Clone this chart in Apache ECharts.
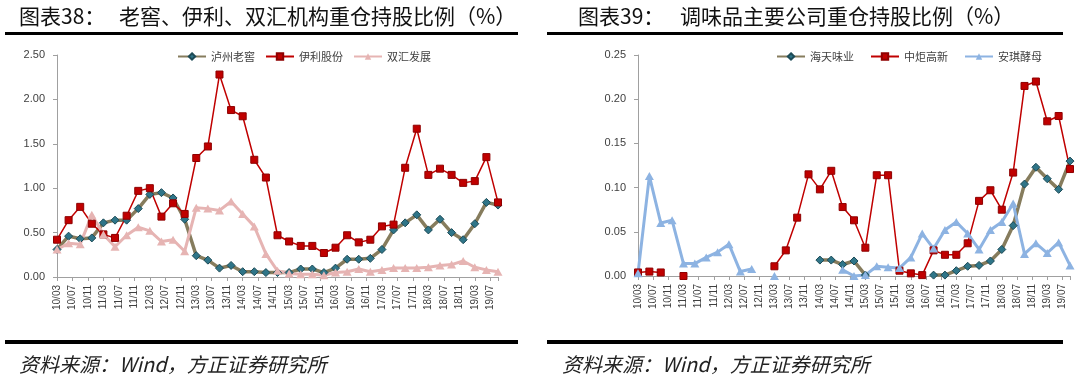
<!DOCTYPE html>
<html>
<head>
<meta charset="utf-8">
<script src="https://cdn.jsdelivr.net/npm/echarts@6/dist/echarts.min.js"></script>
<style>
  html, body { margin: 0; padding: 0; background: #fff; }
  #main { width: 1080px; height: 376px; }
</style>
</head>
<body>
<div id="main"></div>
<script>
// 季度末数据点
var periods = ['10/03','10/06','10/09','10/12','11/03','11/06','11/09','11/12','12/03','12/06','12/09','12/12',
  '13/03','13/06','13/09','13/12','14/03','14/06','14/09','14/12','15/03','15/06','15/09','15/12',
  '16/03','16/06','16/09','16/12','17/03','17/06','17/09','17/12','18/03','18/06','18/09','18/12',
  '19/03','19/06','19/09'];
// 横轴标签，每4个月一个
var tickLabels = ['10/03','10/07','10/11','11/03','11/07','11/11','12/03','12/07','12/11','13/03','13/07','13/11',
  '14/03','14/07','14/11','15/03','15/07','15/11','16/03','16/07','16/11','17/03','17/07','17/11',
  '18/03','18/07','18/11','19/03','19/07'];

// 图表38
var luzhou = [0.31,0.46,0.43,0.44,0.61,0.64,0.64,0.77,0.93,0.95,0.89,0.65,0.24,0.19,0.10,0.13,0.06,0.06,0.05,0.05,
  0.05,0.09,0.09,0.05,0.10,0.20,0.20,0.21,0.31,0.53,0.61,0.70,0.53,0.65,0.50,0.42,0.60,0.84,0.81];
var yili = [0.42,0.64,0.79,0.60,0.48,0.44,0.69,0.97,1.00,0.68,0.83,0.71,1.34,1.47,2.28,1.88,1.81,1.32,1.12,0.47,
  0.40,0.35,0.35,0.27,0.33,0.47,0.39,0.42,0.57,0.59,1.23,1.67,1.15,1.22,1.15,1.06,1.08,1.35,0.84];
var shuanghui = [0.31,0.38,0.37,0.70,0.48,0.34,0.47,0.56,0.52,0.40,0.42,0.29,0.78,0.77,0.75,0.85,0.71,0.57,0.26,0.07,
  0.04,0.03,0.03,0.02,0.05,0.06,0.09,0.06,0.08,0.10,0.10,0.10,0.11,0.13,0.14,0.18,0.11,0.08,0.06];

// 图表39
var haitian = [null,null,null,null,null,null,null,null,null,null,null,null,null,null,null,null,
  0.018,0.018,0.013,0.017,0.001,null,null,null,null,null,0.001,0.001,0.006,0.011,0.012,0.017,0.030,0.057,
  0.104,0.123,0.110,0.098,0.130];
var zhongju = [0.004,0.005,0.004,null,0.000,null,null,null,null,null,null,null,
  0.011,0.029,0.066,0.115,0.098,0.119,0.078,0.063,0.032,0.114,0.114,0.006,0.003,0.001,0.029,0.024,0.024,0.037,
  0.085,0.097,0.075,0.117,0.215,0.220,0.175,0.181,0.121];
var anqi = [0.003,0.113,0.060,0.063,0.014,0.014,0.021,0.027,0.036,0.005,0.008,null,0.000,null,null,null,null,null,
  0.007,0.000,0.001,0.011,0.010,0.009,0.021,0.048,0.031,0.052,0.061,0.048,0.030,0.052,0.061,0.082,0.025,0.037,
  0.026,0.038,0.012];

var cjk = '"Noto Sans CJK SC", sans-serif';
var latin = '"Liberation Sans", Arial, sans-serif';
var axisGray = '#A0A0A0';

function toMonth(p) {
  var s = p.split('/');
  return (parseInt(s[0], 10) - 10) * 12 + parseInt(s[1], 10) - 3;
}
function pairs(arr) {
  return periods.map(function (p, i) { return [toMonth(p), arr[i]]; });
}

function xAxisCfg(idx) {
  return {
    type: 'value', gridIndex: idx, min: 0, max: 114, interval: 4,
    axisLine: { lineStyle: { color: axisGray, width: 1 } },
    axisTick: { show: true, length: 4, lineStyle: { color: axisGray } },
    splitLine: { show: false },
    axisLabel: {
      rotate: 90, margin: 8, fontSize: 10, color: '#404040', fontFamily: latin,
      formatter: function (v) { return v % 4 === 0 ? (tickLabels[v / 4] || '') : ''; }
    }
  };
}
function yAxisCfg(idx, max, step) {
  return {
    type: 'value', gridIndex: idx, min: 0, max: max, interval: step,
    axisLine: { show: true, lineStyle: { color: axisGray, width: 1 } },
    axisTick: { show: true, length: 4, lineStyle: { color: axisGray } },
    splitLine: { show: false },
    axisLabel: {
      margin: 12, fontSize: 11, color: '#404040', fontFamily: latin,
      formatter: function (v) { return v.toFixed(2); }
    }
  };
}

function diamondSeries(name, idx, arr) {
  return {
    name: name, type: 'line', xAxisIndex: idx, yAxisIndex: idx, data: pairs(arr),
    symbol: 'diamond', symbolSize: 8, connectNulls: false,
    lineStyle: { color: '#867C5D', width: 3.5 },
    itemStyle: { color: '#2F7588', borderColor: '#1D4B57', borderWidth: 1 }
  };
}
function squareSeries(name, idx, arr) {
  return {
    name: name, type: 'line', xAxisIndex: idx, yAxisIndex: idx, data: pairs(arr),
    symbol: 'rect', symbolSize: 7, connectNulls: false,
    lineStyle: { color: '#C00000', width: 1.5 },
    itemStyle: { color: '#C00000', borderColor: '#8E0000', borderWidth: 1 }
  };
}
function triangleSeries(name, idx, arr, color) {
  return {
    name: name, type: 'line', xAxisIndex: idx, yAxisIndex: idx, data: pairs(arr),
    symbol: 'triangle', symbolSize: [9, 8], connectNulls: false,
    lineStyle: { color: color, width: 3 },
    itemStyle: { color: color }
  };
}

var chart = echarts.init(document.getElementById('main'));
chart.setOption({
  animation: false,
  backgroundColor: '#fff',
  grid: [
    { left: 57, top: 55, width: 441, height: 222, outerBoundsMode: 'none' },
    { left: 638, top: 55, width: 432, height: 221, outerBoundsMode: 'none' }
  ],
  xAxis: [xAxisCfg(0), xAxisCfg(1)],
  yAxis: [yAxisCfg(0, 2.5, 0.5), yAxisCfg(1, 0.25, 0.05)],
  legend: [
    {
      data: ['泸州老窖', '伊利股份', '双汇发展'], left: 172, top: 46,
      itemWidth: 28, itemHeight: 8, itemGap: 10,
      textStyle: { fontSize: 11, color: '#404040', fontFamily: cjk }
    },
    {
      data: ['海天味业', '中炬高新', '安琪酵母'], left: 771, top: 46,
      itemWidth: 28, itemHeight: 8, itemGap: 16,
      textStyle: { fontSize: 11, color: '#404040', fontFamily: cjk }
    }
  ],
  series: [
    diamondSeries('泸州老窖', 0, luzhou),
    squareSeries('伊利股份', 0, yili),
    triangleSeries('双汇发展', 0, shuanghui, '#E6B4B3'),
    diamondSeries('海天味业', 1, haitian),
    squareSeries('中炬高新', 1, zhongju),
    triangleSeries('安琪酵母', 1, anqi, '#8DB3E2')
  ],
  graphic: [
    { type: 'text', x: 19, y: 16, style: { text: '图表38：', font: '21px ' + cjk, fill: '#111', verticalAlign: 'middle' } },
    { type: 'text', x: 119, y: 16, style: { text: '老窖、伊利、双汇机构重仓持股比例（%）', font: '21px ' + cjk, fill: '#111', verticalAlign: 'middle' } },
    { type: 'text', x: 578, y: 16, style: { text: '图表39：', font: '21px ' + cjk, fill: '#111', verticalAlign: 'middle' } },
    { type: 'text', x: 680, y: 16, style: { text: '调味品主要公司重仓持股比例（%）', font: '21px ' + cjk, fill: '#111', verticalAlign: 'middle' } },
    { type: 'rect', shape: { x: 5, y: 32, width: 513, height: 3 }, style: { fill: '#000' } },
    { type: 'rect', shape: { x: 547, y: 32, width: 516, height: 3 }, style: { fill: '#000' } },
    { type: 'rect', shape: { x: 5, y: 340, width: 513, height: 4 }, style: { fill: '#000' } },
    { type: 'rect', shape: { x: 547, y: 340, width: 516, height: 4 }, style: { fill: '#000' } },
    { type: 'text', x: 19, y: 364, style: { text: '资料来源：Wind，方正证券研究所', font: 'italic 20px ' + cjk, fill: '#222', verticalAlign: 'middle' } },
    { type: 'text', x: 562, y: 364, style: { text: '资料来源：Wind，方正证券研究所', font: 'italic 20px ' + cjk, fill: '#222', verticalAlign: 'middle' } }
  ]
});
</script>
</body>
</html>
